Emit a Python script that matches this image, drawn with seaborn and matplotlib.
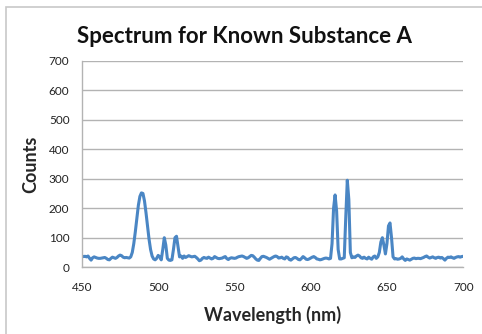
import matplotlib
matplotlib.use("Agg")
import matplotlib.pyplot as plt
import seaborn as sns
import pandas as pd
from matplotlib.patches import Rectangle

wavelength = list(range(450, 701))
counts = [
    # 450-469
    38, 36, 37, 35, 38, 30, 24, 32, 35, 33, 31, 30, 30, 31, 32, 33, 30, 26, 25, 30,
    # 470-489
    34, 32, 30, 33, 38, 41, 39, 34, 32, 33, 32, 31, 35, 50, 80, 120, 165, 210, 240, 252,
    # 490-509
    250, 225, 185, 140, 95, 60, 38, 28, 25, 30, 40, 35, 25, 60, 100, 75, 30, 24, 23, 25,
    # 510-529
    60, 100, 105, 70, 35, 38, 30, 38, 33, 36, 39, 37, 35, 36, 37, 33, 28, 22, 24, 30,
    # 530-549
    33, 31, 30, 34, 31, 28, 30, 36, 33, 30, 29, 30, 31, 34, 36, 29, 26, 30, 32, 31,
    # 550-569
    30, 31, 34, 36, 37, 38, 36, 33, 30, 32, 36, 40, 39, 34, 28, 24, 23, 30, 36, 37,
    # 570-589
    35, 33, 30, 27, 30, 33, 36, 38, 36, 31, 32, 34, 30, 28, 35, 33, 26, 24, 28, 32,
    # 590-609
    33, 30, 26, 25, 30, 36, 32, 27, 26, 28, 31, 34, 36, 33, 28, 27, 25, 26, 28, 30,
    # 610-629
    31, 30, 28, 30, 80, 200, 245, 190, 60, 28, 28, 30, 32, 170, 295, 230, 50, 32, 35, 33,
    # 630-649
    38, 41, 38, 32, 30, 34, 30, 28, 34, 30, 27, 35, 38, 30, 35, 50, 85, 100, 75, 45,
    # 650-669
    80, 140, 150, 100, 35, 28, 29, 27, 28, 30, 35, 28, 23, 28, 26, 24, 27, 30, 31, 29,
    # 670-689
    30, 30, 29, 31, 33, 36, 38, 34, 31, 33, 35, 32, 30, 33, 34, 31, 33, 29, 24, 30,
    # 690-700
    34, 33, 35, 32, 30, 33, 35, 36, 34, 36, 37,
]

df = pd.DataFrame({"Wavelength": wavelength, "Counts": counts})

sns.set_theme(style="white")
plt.rcParams["font.family"] = ["Lato", "DejaVu Sans"]

fig = plt.figure(figsize=(4.82, 3.34), dpi=100)
ax = fig.add_axes([0.170, 0.200, 0.791, 0.618])

sns.lineplot(data=df, x="Wavelength", y="Counts", ax=ax, color="#4a86c4", linewidth=2.2)

ax.set_xlim(450, 700)
ax.set_ylim(0, 700)
ax.set_xticks([450, 500, 550, 600, 650, 700])
ax.set_yticks(range(0, 701, 100))
ax.yaxis.grid(True, color="#b3b3b3", linewidth=1.0)
ax.xaxis.grid(False)
ax.set_axisbelow(True)

for side in ["top", "right"]:
    ax.spines[side].set_visible(False)
for side in ["left", "bottom"]:
    ax.spines[side].set_color("#b3b3b3")
    ax.spines[side].set_linewidth(1.0)

ax.tick_params(axis="both", which="major", direction="out", length=4, width=1.0,
               color="#b3b3b3", labelsize=8.5, labelcolor="#222222")
ax.tick_params(axis="x", pad=7)
ax.tick_params(axis="y", pad=5)

ax.set_xlabel("Wavelength (nm)", fontsize=13, fontweight="bold", labelpad=9)
ax.set_ylabel("Counts", fontsize=13, fontweight="bold", labelpad=7)

fig.text(0.508, 0.892, "Spectrum for Known Substance A", ha="center", va="center",
         fontsize=16, fontweight="bold", color="#111111")

fig.patches.append(Rectangle((6 / 482, -0.1), 1.2, 1 - 7 / 334 + 0.1,
                             transform=fig.transFigure, fill=False,
                             edgecolor="#c8c8c8", linewidth=1.2))

fig.savefig("out.png", dpi=100)
